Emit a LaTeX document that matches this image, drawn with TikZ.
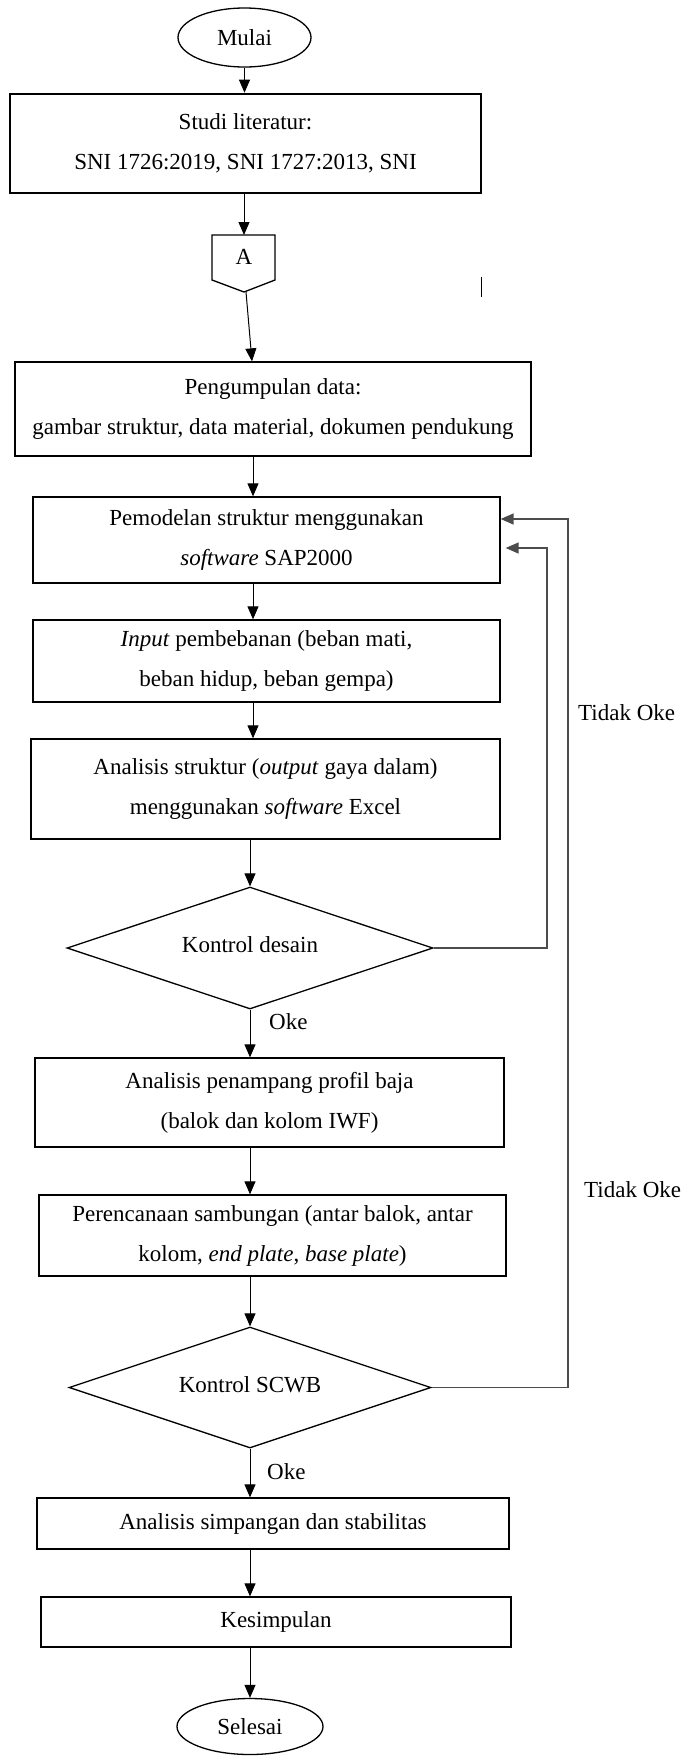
\documentclass[tikz,border=0pt]{standalone}
\usepackage{fontspec}
\setmainfont{Liberation Serif}
\usetikzlibrary{shapes.geometric,arrows.meta}

\begin{document}
\begin{tikzpicture}[x=1pt, y=-1pt,
  every node/.style={font=\fontsize{23}{40}\selectfont, align=center},
  kasten/.style={draw, line width=1.3pt, inner sep=0pt},
  raute/.style={draw, diamond, aspect=3, line width=1.3pt, inner sep=0pt},
  oval/.style={draw, ellipse, line width=1.3pt, inner sep=0pt},
  pfeil/.style={-{Triangle[length=13pt,width=11pt]}, line width=1pt},
  rueck/.style={pfeil, draw=black!70, line width=1.4pt},
  marke/.style={anchor=west, inner sep=0pt}]
  \useasboundingbox (0,0) rectangle (681,1756);
  % Spalten der Pfeile
  \coordinate (spalte) at (253,0);
  % Start und Literatur
  \node[oval, minimum width=133pt, minimum height=59pt] (mulai) at (244.5,37.5) {Mulai};
  \node[kasten, line width=2.6pt, minimum width=471pt, minimum height=99pt] (studi) at (245.5,143.5)
    {Studi literatur:\\SNI 1726:2019, SNI 1727:2013, SNI};
  % Verbinder A
  \draw[line width=1.3pt] (212,235) -- (275,235) -- (275,280) -- (244,292) -- (212,280) -- cycle;
  \node (verbA) at (244,257) {A};
  \coordinate (verbAoben) at (244,235);
  \coordinate (verbAspitze) at (246,292);
  \draw[line width=1pt] (481,277) -- (481,297);
  % Hauptkette
  \node[kasten, minimum width=516pt, minimum height=94pt] (data) at (273,409)
    {Pengumpulan data:\\gambar struktur, data material, dokumen pendukung};
  \node[kasten, minimum width=467pt, minimum height=86pt] (model) at (266.5,540)
    {Pemodelan struktur menggunakan\\\textit{software} SAP2000};
  \node[kasten, minimum width=467pt, minimum height=82pt] (input) at (266.5,661)
    {\textit{Input} pembebanan (beban mati,\\beban hidup, beban gempa)};
  \node[kasten, minimum width=469pt, minimum height=100pt] (analisis) at (265.5,789)
    {Analisis struktur (\textit{output} gaya dalam)\\menggunakan \textit{software} Excel};
  \node[raute, minimum width=366pt, minimum height=122pt] (desain) at (250,948)
    {\raisebox{6pt}{Kontrol desain}};
  \node[kasten, minimum width=469pt, minimum height=89pt] (penampang) at (269.5,1102.5)
    {Analisis penampang profil baja\\(balok dan kolom IWF)};
  \node[kasten, minimum width=467pt, minimum height=81pt] (sambungan) at (272.5,1235.5)
    {Perencanaan sambungan (antar balok, antar\\kolom, \textit{end plate}, \textit{base plate})};
  \node[raute, minimum width=362pt, minimum height=121pt] (scwb) at (250,1387.5)
    {\raisebox{6pt}{Kontrol SCWB}};
  \node[kasten, minimum width=472pt, minimum height=51pt] (simpangan) at (273,1523.5)
    {Analisis simpangan dan stabilitas};
  \node[kasten, minimum width=470pt, minimum height=50pt] (simpul) at (276,1622) {Kesimpulan};
  \node[oval, minimum width=146pt, minimum height=56pt] (selesai) at (250,1726.5) {Selesai};
  % Pfeile
  \draw[pfeil] (mulai.south) -- (mulai.south |- studi.north);
  \draw[pfeil] (studi.south -| verbAoben) -- (verbAoben);
  \draw[pfeil] (verbAspitze) -- (data.north -| 252,0);
  \draw[pfeil] (data.south -| spalte) -- (model.north -| spalte);
  \draw[pfeil] (model.south -| spalte) -- (input.north -| spalte);
  \draw[pfeil] (input.south -| spalte) -- (analisis.north -| spalte);
  \draw[pfeil] (analisis.south -| desain.north) -- (desain.north);
  \draw[pfeil] (desain.south) -- (penampang.north -| desain.south);
  \draw[pfeil] (penampang.south -| desain.south) -- (sambungan.north -| desain.south);
  \draw[pfeil] (sambungan.south -| scwb.north) -- (scwb.north);
  \draw[pfeil] (scwb.south) -- (simpangan.north -| scwb.south);
  \draw[pfeil] (simpangan.south -| scwb.south) -- (simpul.north -| scwb.south);
  \draw[pfeil] (simpul.south -| selesai.north) -- (selesai.north);
  % Rueckfuehrungen
  \draw[rueck, shorten >=5pt] (desain.east) -| (547,548) -- (model.east |- 0,548);
  \draw[rueck] (scwb.east) -| (568,519) -- (model.east |- 0,519);
  % Beschriftung
  \node[marke] (oke1) at (269,1022) {Oke};
  \node[marke] (oke2) at (267,1472) {Oke};
  \node[marke] (tidak1) at (578,713) {Tidak Oke};
  \node[marke] (tidak2) at (584,1190) {Tidak Oke};
\end{tikzpicture}
\end{document}
